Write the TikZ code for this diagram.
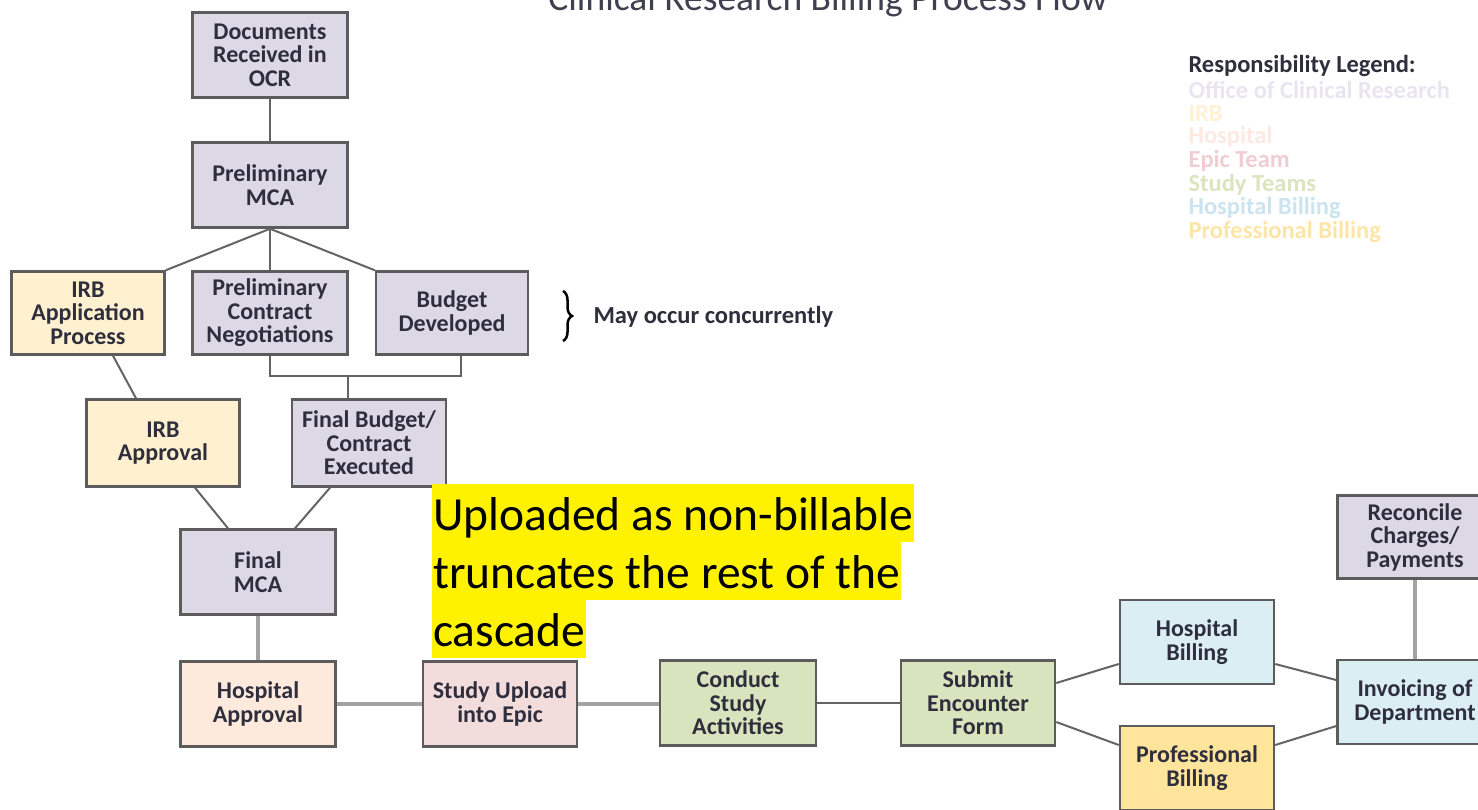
\documentclass[tikz,border=0pt]{standalone}
\usepackage{fontspec}
\setmainfont{Carlito}
\usetikzlibrary{decorations.pathreplacing}
\definecolor{ocrfill}{HTML}{DDD8E6}
\definecolor{irbfill}{HTML}{FFF1CF}
\definecolor{hospfill}{HTML}{FDEADD}
\definecolor{epicfill}{HTML}{F2DCDC}
\definecolor{studyfill}{HTML}{D8E4BE}
\definecolor{hbillfill}{HTML}{DBEEF4}
\definecolor{pbillfill}{HTML}{FFE49C}
\definecolor{boxline}{HTML}{5C5C5C}
\definecolor{linkdark}{HTML}{646464}
\definecolor{linklight}{HTML}{A3A3A3}
\definecolor{titletext}{HTML}{3F3F4F}
\definecolor{boxtext}{HTML}{2E2E3C}
\definecolor{lgocr}{HTML}{E9E5F0}
\definecolor{lgirb}{HTML}{FFF1D2}
\definecolor{lghosp}{HTML}{FDE9E1}
\definecolor{lgepic}{HTML}{EFCDD1}
\definecolor{lgstudy}{HTML}{DAE4BE}
\definecolor{lghbill}{HTML}{CBE4EE}
\definecolor{lgpbill}{HTML}{FDE5A6}
\begin{document}
\begin{tikzpicture}[x=1pt, y=-1pt,
    box/.style={draw=boxline, line width=2.5pt, minimum width=155pt, minimum height=85pt,
        align=center, inner sep=1pt, text=boxtext, font=\fontsize{24}{23.5}\selectfont\bfseries},
    side text/.style={anchor=west, font=\fontsize{24.5}{25}\selectfont\bfseries},
    link/.style={linkdark, line width=2pt},
    wide link/.style={linklight, line width=4pt},
    hl/.style={fill=yellow, anchor=north west, inner xsep=1pt, inner ysep=0pt,
        text height=46pt, text depth=12pt, font=\fontsize{47.5}{58}\selectfont}]
        \useasboundingbox (0,0) rectangle (1478,809);
        
        %title, cut off at the top
        \node [anchor=base, text=titletext, font=\fontsize{37.5}{40}\selectfont] (title) at (828,10) {Clinical Research Billing Process Flow};
        
        %legend
        \node [side text, text=boxtext] (legend) at (1185,66) {Responsibility Legend:};
        \foreach \txt/\col [count=\i] in {Office of Clinical Research/lgocr, IRB/lgirb, Hospital/lghosp, Epic Team/lgepic,
            Study Teams/lgstudy, Hospital Billing/lghbill, Professional Billing/lgpbill}
            \node [side text, text=\col] (lg\i) at (1185,66+23.7*\i) {\txt};
        
        %the main figure starts
        \node [box, fill=ocrfill] (docs) at (270,55) {Documents\\Received in\\OCR};
        \node [box, fill=ocrfill] (prelimmca) at (270,185) {Preliminary\\MCA};
        \node [box, fill=irbfill, minimum width=153pt, minimum height=83pt] (irbapp) at (88,313) {IRB\\Application\\Process};
        \node [box, fill=ocrfill, minimum height=83pt] (prelimcon) at (270,313) {Preliminary\\Contract\\Negotiations};
        \node [box, fill=ocrfill, minimum width=152pt, minimum height=83pt] (budget) at (452,313) {Budget\\Developed};
        \node [box, fill=irbfill, minimum width=153pt, minimum height=87pt] (irbok) at (163,443) {IRB\\Approval};
        \node [box, fill=ocrfill, minimum width=154pt, minimum height=87pt] (finalbud) at (369,443) {Final Budget/\\Contract\\Executed};
        \node [box, fill=ocrfill] (finalmca) at (258,572) {Final\\MCA};
        \node [box, fill=hospfill] (hospok) at (258,704) {Hospital\\Approval};
        \node [box, fill=epicfill, minimum width=154pt] (upload) at (500,704) {Study Upload\\into Epic};
        \node [box, fill=studyfill, minimum width=156pt] (conduct) at (738,703) {Conduct\\Study\\Activities};
        \node [box, fill=studyfill, minimum width=154pt] (submit) at (978,703) {Submit\\Encounter\\Form};
        \node [box, fill=hbillfill, minimum width=154pt, minimum height=84pt] (hospbill) at (1197,642) {Hospital\\Billing};
        \node [box, fill=pbillfill, minimum width=154pt, minimum height=84pt] (profbill) at (1197,768) {Professional\\Billing};
        \node [box, fill=hbillfill, minimum height=84pt] (invoice) at (1415,702) {Invoicing of\\Department};
        \node [box, fill=ocrfill, minimum height=83pt] (reconcile) at (1415,537) {Reconcile\\Charges/\\Payments};
        
        \draw [decorate, decoration={brace, amplitude=9pt}, line width=2.5pt] (563,291) -- (563,341);
        \node [side text, text=boxtext] (concur) at (590,317) {May occur concurrently};
        
        %connectors
        \draw [link] (docs.south) -- (prelimmca.north);
        \draw [link] (prelimmca.south) -- (irbapp.north east);
        \draw [link] (prelimmca.south) -- (prelimcon.north);
        \draw [link] (prelimmca.south) -- (budget.north west);
        \coordinate (join) at (348,376);
        \draw [link] (prelimcon.south) |- (join) -| ([xshift=9pt]budget.south);
        \draw [link] (join) -- (join |- finalbud.north);
        \draw [link] ([xshift=25pt]irbapp.south) -- ([xshift=-27pt]irbok.north);
        \draw [link] ([xshift=32pt]irbok.south) -- ([xshift=-30pt]finalmca.north);
        \draw [link] ([xshift=-39pt]finalbud.south) -- ([xshift=37pt]finalmca.north);
        \draw [wide link] (finalmca.south) -- (hospok.north);
        \draw [wide link] (hospok.east) -- (upload.west);
        \draw [wide link] (upload.east) -- (upload.east -| conduct.west);
        \draw [link] (conduct.east) -- (submit.east -| submit.west);
        \draw [link] ([yshift=20pt]submit.east) -- ([yshift=-22pt]hospbill.west);
        \draw [link] ([yshift=-19pt]submit.east) -- ([yshift=23pt]profbill.west);
        \draw [link] ([yshift=-22pt]hospbill.east) -- ([yshift=22pt]invoice.west);
        \draw [link] ([yshift=23pt]profbill.east) -- ([yshift=-24pt]invoice.west);
        \draw [wide link] (reconcile.south) -- (invoice.north);
        
        %highlighted note
        \node [hl] (note1) at (432,484) {Uploaded as non-billable\ };
        \node [hl] (note2) at (432,542) {truncates the rest of the\ };
        \node [hl] (note3) at (432,600) {cascade};
        
    \end{tikzpicture}
\end{document}
